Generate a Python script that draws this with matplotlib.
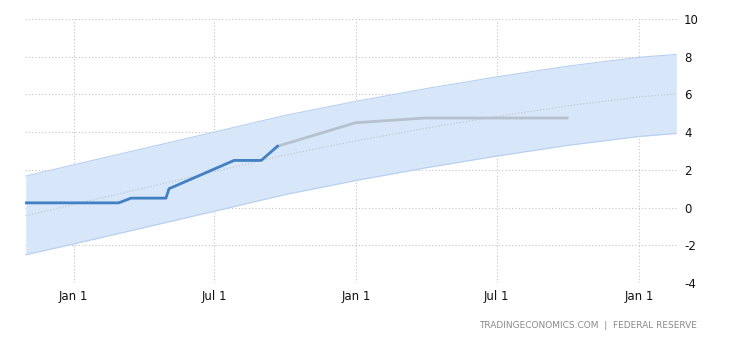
### Fed funds rate with forecast band, tradingeconomics style

import numpy as np
import pandas as pd
import matplotlib
matplotlib.use('Agg')
import matplotlib.pyplot as plt
import matplotlib.dates as mdates

plt.rcParams['axes.unicode_minus'] = False

# actual rate
actual_dates = pd.to_datetime(['2021-10-31', '2021-12-15', '2022-01-26', '2022-02-28', '2022-03-16',
                               '2022-04-30', '2022-05-04', '2022-06-15', '2022-07-27', '2022-08-31',
                               '2022-09-21'])
actual_vals = [0.25, 0.25, 0.25, 0.25, 0.5, 0.5, 1.0, 1.75, 2.5, 2.5, 3.25]

# forecast
fc_dates = pd.to_datetime(['2022-09-21', '2022-12-31', '2023-03-31', '2023-09-30'])
fc_vals = [3.25, 4.5, 4.75, 4.75]

# trend and band
band_dates = pd.to_datetime(['2021-10-31', '2022-01-01', '2022-04-01', '2022-07-01', '2022-10-01',
                             '2023-01-01', '2023-04-01', '2023-07-01', '2023-10-01', '2024-01-01',
                             '2024-02-18'])
trend_vals = [-0.43, 0.17, 1.03, 1.9, 2.79, 3.54, 4.21, 4.83, 5.4, 5.87, 6.03]
upper_vals = [1.67, 2.27, 3.13, 4.0, 4.89, 5.64, 6.31, 6.93, 7.5, 7.97, 8.12]
lower_vals = [-2.5, -1.93, -1.07, -0.2, 0.69, 1.44, 2.11, 2.73, 3.3, 3.77, 3.93]

yticks = [-4, -2, 0, 2, 4, 6, 8, 10]

fig = plt.figure(figsize=(7.3, 3.4), dpi=100)
ax = fig.add_axes([25/730, 1-283/340, (677-25)/730, (283-19)/340])

ax.fill_between(band_dates, lower_vals, upper_vals, color='#d7e6f9', linewidth=0, zorder=1)
ax.plot(band_dates, upper_vals, color='#b6cff2', linewidth=0.8, zorder=1)
ax.plot(band_dates, lower_vals, color='#b6cff2', linewidth=0.8, zorder=1)
ax.plot(band_dates, trend_vals, color='#c4c9d2', linewidth=0.9, linestyle=(0, (1, 1.5)), zorder=2)
ax.plot(fc_dates, fc_vals, color='#b7c1cd', linewidth=2, zorder=3)
ax.plot(actual_dates, actual_vals, color='#4180c2', linewidth=2, zorder=4)

ax.set_ylim(-4, 10)
ax.set_yticks(yticks)
ax.set_xlim(pd.Timestamp('2021-10-30'), pd.Timestamp('2024-02-19'))
ax.xaxis.set_major_locator(mdates.MonthLocator(bymonth=[1, 7]))
ax.xaxis.set_major_formatter(mdates.DateFormatter('%b %-d'))

ax.yaxis.tick_right()
ax.grid(True, color='#c4c4c4', linestyle=(0, (1, 2)), linewidth=0.8)
ax.set_axisbelow(True)
for s in ax.spines.values():
    s.set_visible(False)
ax.tick_params(axis='both', length=0, labelsize=8.5, colors='#111111')
ax.tick_params(axis='y', pad=5)
ax.tick_params(axis='x', pad=5)

fig.text(697/730, 1-325/340, 'TRADINGECONOMICS.COM  |  FEDERAL RESERVE', ha='right', va='center',
         fontsize=6.5, color='#8a8a8a')

fig.savefig('out.png', dpi=100)
